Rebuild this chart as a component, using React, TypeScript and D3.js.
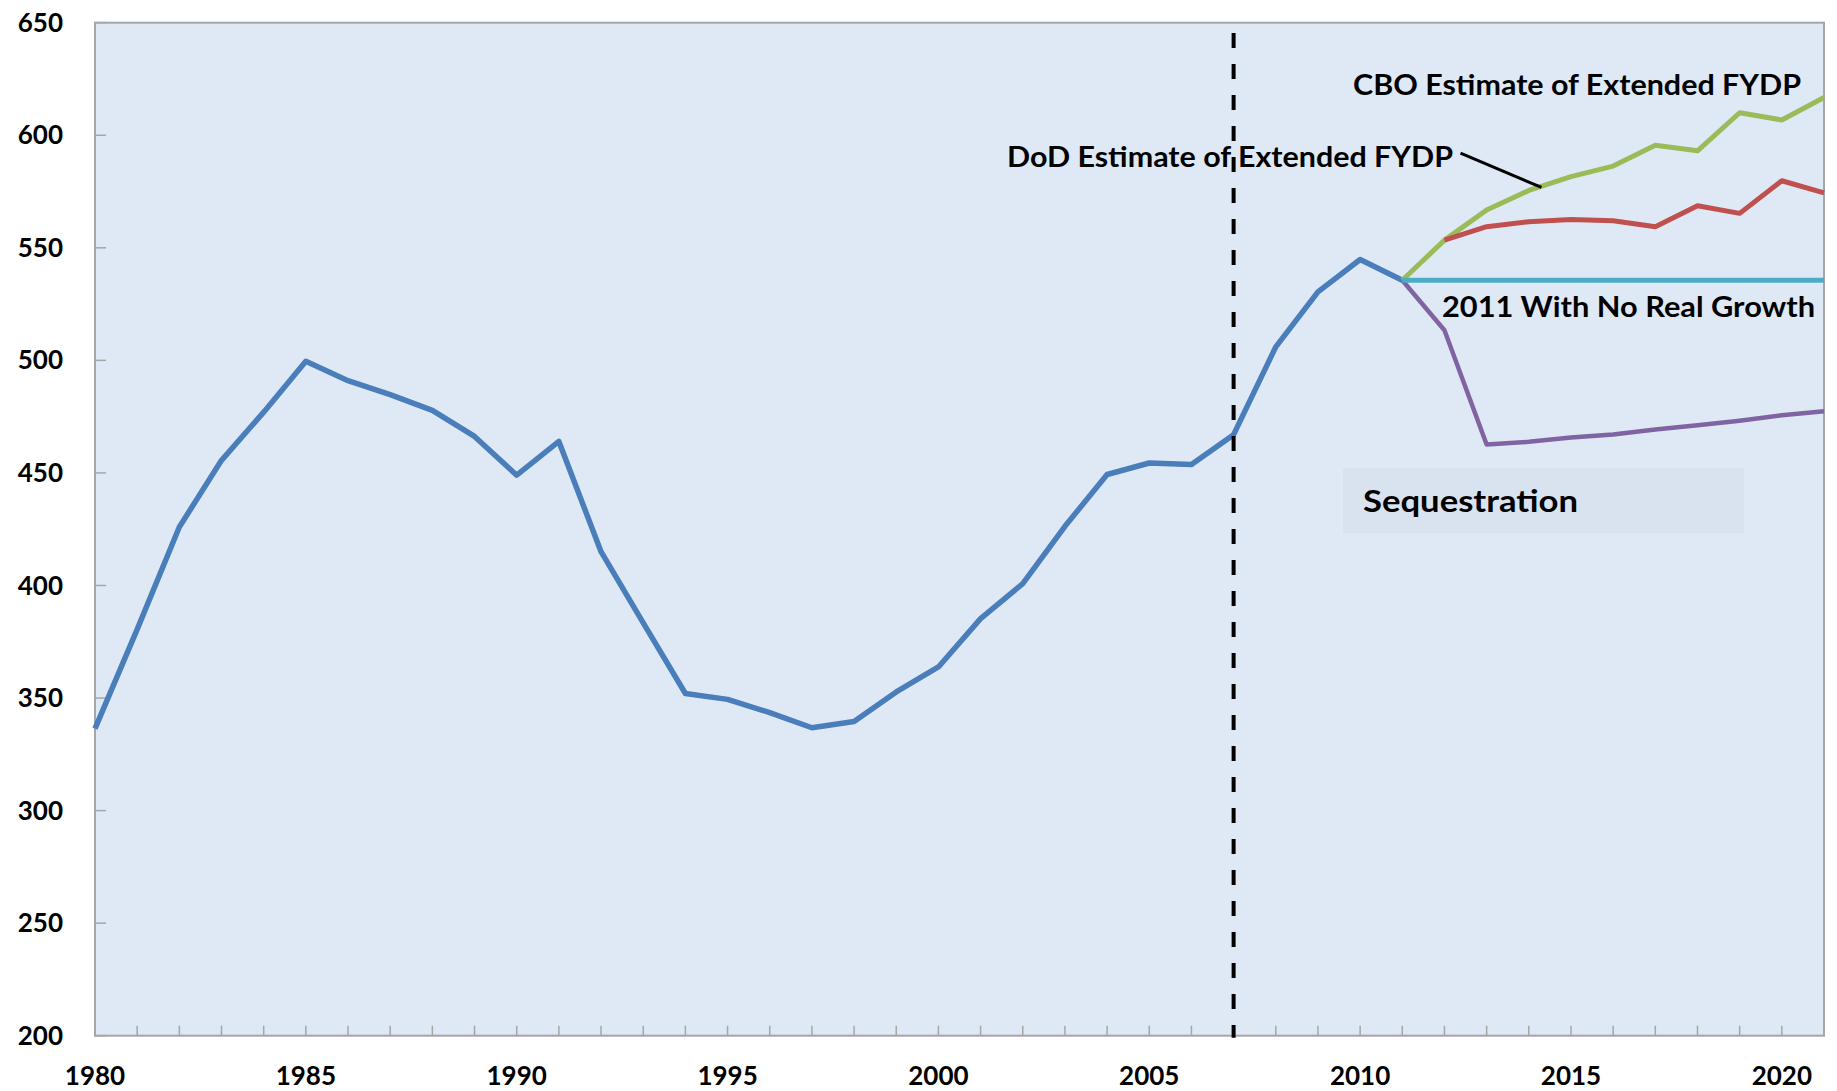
import React from "react";
import * as d3 from "d3";

const histYears = [1980,1981,1982,1983,1984,1985,1986,1987,1988,1989,1990,1991,1992,1993,1994,1995,1996,1997,1998,1999,2000,2001,2002,2003,2004,2005,2006,2007,2008,2009,2010,2011];
const histValues = [336.4,380.5,426,455.6,477,499.6,491,484.8,477.8,466.2,449,464,415,383.4,352,349.4,343.5,336.8,339.6,352.7,363.8,385.3,400.8,426.3,449.3,454.4,453.7,467,506,530.4,544.8,535.6];

const projYears = [2011,2012,2013,2014,2015,2016,2017,2018,2019,2020,2021];
const cboValues = [535.6,553.4,566.8,575.5,581.6,586.3,595.6,593.1,610,606.8,616.8];
const flatValues = [535.6,535.6,535.6,535.6,535.6,535.6,535.6,535.6,535.6,535.6,535.6];
const seqValues = [535.6,513.4,462.6,463.8,465.7,467.1,469.3,471.2,473.2,475.6,477.4];

const dodYears = [2012,2013,2014,2015,2016,2017,2018,2019,2020,2021];
const dodValues = [553.4,559.4,561.6,562.6,562,559.4,568.7,565.3,579.8,574.4];

const yTicks = [200,250,300,350,400,450,500,550,600,650];
const xLabelYears = [1980,1985,1990,1995,2000,2005,2010,2015,2020];
const minorYears = d3.range(1981, 2021);

const W = 1837, H = 1091;
const L = 95, T = 22.7, R = 1824, B = 1035.7;
const FONT = "Lato, 'Open Sans', 'Noto Sans', sans-serif";

export default function App() {
  const x = d3.scaleLinear().domain([1980, 2021]).range([L, R]);
  const y = d3.scaleLinear().domain([200, 650]).range([B, T]);
  const line = d3.line<[number, number]>().x(d => x(d[0])).y(d => y(d[1]));
  const zip = (a: number[], b: number[]) => a.map((v, i) => [v, b[i]] as [number, number]);

  const hist = line(zip(histYears, histValues)) || "";
  const cbo = line(zip(projYears, cboValues)) || "";
  const flat = line(zip(projYears, flatValues)) || "";
  const seq = line(zip(projYears, seqValues)) || "";
  const dod = line(zip(dodYears, dodValues)) || "";

  const axisGray = "#A6A6A6";

  return (
    <svg width={W} height={H} style={{ position: "absolute", left: 0, top: 0, background: "#fff" }}>
      <rect x={L} y={T} width={R - L} height={B - T} fill="#DFE9F6" stroke={axisGray} strokeWidth={2} />
      {/* sequestration box */}
      <rect x={1343} y={468} width={401} height={65} fill="#D9E3EF" />
      {/* y ticks */}
      {yTicks.map(t => (
        <g key={"y" + t}>
          <line x1={L} x2={L + 11} y1={y(t)} y2={y(t)} stroke={axisGray} strokeWidth={1.5} />
          <text x={63} y={y(t)} dy="0.35em" textAnchor="end" fontFamily={FONT} fontWeight={700} fontSize={26} fill="#000">{t}</text>
        </g>
      ))}
      {/* x ticks */}
      {minorYears.map(yr => (
        <line key={"xt" + yr} x1={x(yr)} x2={x(yr)} y1={B} y2={B - 10} stroke={axisGray} strokeWidth={1.5} />
      ))}
      {xLabelYears.map(yr => (
        <text key={"xl" + yr} x={x(yr)} y={1085} textAnchor="middle" fontFamily={FONT} fontWeight={700} fontSize={26} fill="#000">{yr}</text>
      ))}
      {/* series */}
      <path d={hist} fill="none" stroke="#4A7EBB" strokeWidth={5.5} strokeLinejoin="round" />
      <path d={seq} fill="none" stroke="#8064A2" strokeWidth={4.5} strokeLinejoin="round" />
      <path d={cbo} fill="none" stroke="#9BBB59" strokeWidth={5} strokeLinejoin="round" />
      <path d={dod} fill="none" stroke="#C0504D" strokeWidth={5} strokeLinejoin="round" />
      <path d={flat} fill="none" stroke="#4BACC6" strokeWidth={5} />
      {/* annotations */}
      <text x={1353} y={95} fontFamily={FONT} fontWeight={700} fontSize={28.5} fill="#000" textLength={448} lengthAdjust="spacingAndGlyphs">CBO Estimate of Extended FYDP</text>
      <text x={1007} y={167} fontFamily={FONT} fontWeight={700} fontSize={28.5} fill="#000" textLength={446} lengthAdjust="spacingAndGlyphs">DoD Estimate of Extended FYDP</text>
      <line x1={x(2012.38)} y1={y(592.1)} x2={x(2014.3)} y2={y(576.8)} stroke="#000" strokeWidth={3} />
      <text x={1442} y={317} fontFamily={FONT} fontWeight={700} fontSize={28.5} fill="#000" textLength={373} lengthAdjust="spacingAndGlyphs">2011 With No Real Growth</text>
      <text x={1363} y={512} fontFamily={FONT} fontWeight={700} fontSize={30.5} fill="#000" textLength={215} lengthAdjust="spacingAndGlyphs">Sequestration</text>
      {/* dashed divider */}
      <line x1={x(2007)} x2={x(2007)} y1={33} y2={B + 2} stroke="#000" strokeWidth={4} strokeDasharray="15 16" />
    </svg>
  );
}
